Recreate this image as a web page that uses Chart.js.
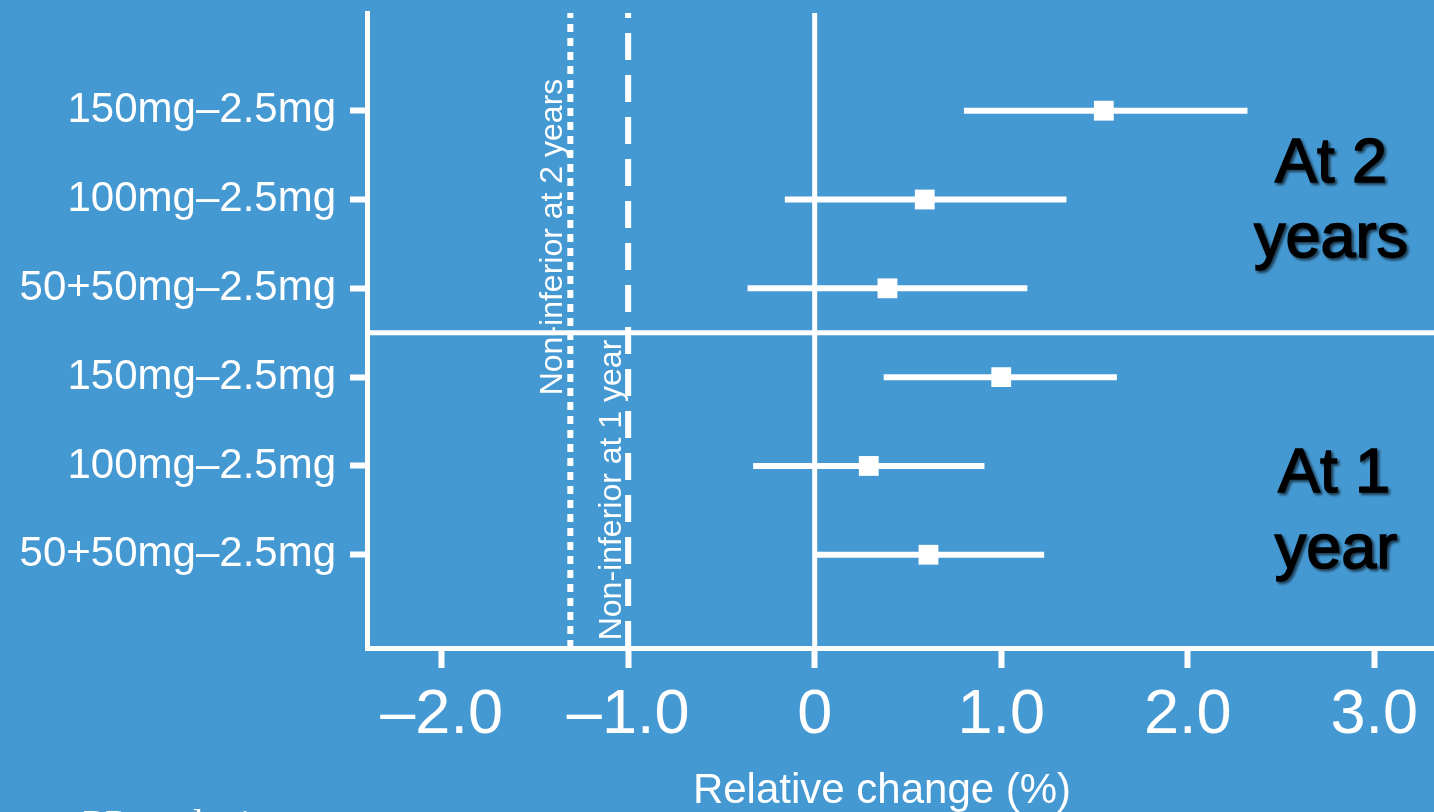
<!DOCTYPE html>
<html lang="en">
<head>
  <meta charset="UTF-8">
  <title>Non-inferiority forest plot</title>
  <script src="https://cdn.jsdelivr.net/npm/chart.js"></script>
  <style>
    html, body {
      margin: 0;
      padding: 0;
      background: #4599d3;
      overflow: hidden;
    }
    #chart {
      display: block;
      background: #4599d3;
    }
  </style>
</head>
<body>
<canvas id="chart" width="1434" height="812"></canvas>

<script>
// rows from top to bottom: 2-year comparisons then 1-year comparisons
const rowLabels = ['150mg–2.5mg', '100mg–2.5mg', '50+50mg–2.5mg', '150mg–2.5mg', '100mg–2.5mg', '50+50mg–2.5mg'];
const rowPos = [6, 5, 4, 3, 2, 1];
const estimate = [1.55, 0.59, 0.39, 1.0, 0.29, 0.61];
const ciLow = [0.80, -0.16, -0.36, 0.37, -0.33, 0.0];
const ciHigh = [2.32, 1.35, 1.14, 1.62, 0.91, 1.23];

const xTicks = [-2, -1, 0, 1, 2, 3];
const margin2y = -1.31;   // dotted line
const margin1y = -1.0;    // dashed line
const groupSplit = 3.5;

const xMin = -2.4, xMax = 3.32;
const yMin = -0.05, yMax = 7.1;

const WHITE = '#ffffff';
const FONT = '"Liberation Sans", Arial, Helvetica, sans-serif';

function fmtTick(v) {
  if (v === 0) return '0';
  if (v < 0) return '–' + Math.abs(v).toFixed(1);
  return v.toFixed(1);
}

function vline(x, dash, width) {
  return {
    data: [{ x: x, y: yMin }, { x: x, y: yMax }],
    showLine: true,
    borderColor: WHITE,
    borderWidth: width,
    borderDash: dash,
    pointRadius: 0
  };
}

// drop the extra room chart.js keeps for overhanging tick labels
function noPad(scale) {
  scale.paddingTop = 0;
  scale.paddingBottom = 0;
  scale.paddingLeft = 0;
  scale.paddingRight = 0;
}

const datasets = [];

// reference lines
datasets.push(vline(0, [], 5));
datasets.push(vline(margin2y, [8, 6], 6));
datasets.push(vline(margin1y, [27, 15], 6));
datasets.push({
  data: [{ x: xMin, y: groupSplit }, { x: xMax, y: groupSplit }],
  showLine: true,
  borderColor: WHITE,
  borderWidth: 5,
  pointRadius: 0
});

// confidence intervals
rowPos.forEach((y, i) => {
  datasets.push({
    data: [{ x: ciLow[i], y: y }, { x: ciHigh[i], y: y }],
    showLine: true,
    borderColor: WHITE,
    borderWidth: 6,
    pointRadius: 0
  });
});

// point estimates
datasets.push({
  data: rowPos.map((y, i) => ({ x: estimate[i], y: y })),
  pointStyle: 'rect',
  pointRadius: 14,
  backgroundColor: WHITE,
  borderColor: WHITE,
  borderWidth: 0
});

// free text on the plot
const textPlugin = {
  id: 'plotText',
  afterDraw(chart) {
    const ctx = chart.ctx;
    const xs = chart.scales.x;

    ctx.save();
    ctx.fillStyle = WHITE;
    ctx.font = '32px ' + FONT;
    ctx.textAlign = 'center';
    ctx.textBaseline = 'alphabetic';

    ctx.save();
    ctx.translate(xs.getPixelForValue(margin2y) - 8, 237);
    ctx.rotate(-Math.PI / 2);
    ctx.fillText('Non-inferior at 2 years', 0, 0);
    ctx.restore();

    ctx.save();
    ctx.translate(xs.getPixelForValue(margin1y) - 7, 490);
    ctx.rotate(-Math.PI / 2);
    ctx.fillText('Non-inferior at 1 year', 0, 0);
    ctx.restore();

    // axis title
    ctx.font = '42px ' + FONT;
    ctx.fillText('Relative change (%)', 882, 803);

    // footnote, mostly below the visible area
    ctx.textAlign = 'left';
    ctx.textBaseline = 'top';
    ctx.font = '40px "Liberation Serif", "Times New Roman", serif';
    ctx.fillText('PP analysis', 83, 806);

    // group labels
    ctx.fillStyle = '#000000';
    ctx.strokeStyle = '#000000';
    ctx.lineWidth = 1.5;
    ctx.shadowColor = 'rgba(0,0,0,0.6)';
    ctx.shadowOffsetX = 2;
    ctx.shadowOffsetY = 2;
    ctx.shadowBlur = 3;
    ctx.font = '63px ' + FONT;
    ctx.textAlign = 'center';
    ctx.textBaseline = 'alphabetic';
    [['At 2', 1331, 182], ['years', 1331, 257], ['At 1', 1334, 492], ['year', 1336, 568]].forEach(t => {
      ctx.fillText(t[0], t[1], t[2]);
      ctx.strokeText(t[0], t[1], t[2]);
    });
    ctx.restore();
  }
};

new Chart(document.getElementById('chart'), {
  type: 'scatter',
  data: { datasets },
  options: {
    responsive: false,
    animation: false,
    events: [],
    layout: { autoPadding: false, padding: { top: 13, left: 0, right: 0, bottom: 0 } },
    plugins: {
      legend: { display: false },
      tooltip: { enabled: false }
    },
    scales: {
      x: {
        type: 'linear',
        min: xMin,
        max: xMax,
        afterBuildTicks: (scale) => { scale.ticks = xTicks.map(v => ({ value: v })); },
        afterFit: (scale) => { scale.height = 164; noPad(scale); },
        ticks: {
          color: WHITE,
          font: { family: FONT, size: 63 },
          padding: 10,
          autoSkip: false,
          maxRotation: 0,
          callback: (v) => fmtTick(v)
        },
        grid: {
          drawOnChartArea: false,
          drawTicks: true,
          tickLength: 20,
          tickWidth: 6,
          tickColor: WHITE
        },
        border: { display: true, color: WHITE, width: 5 }
      },
      y: {
        type: 'linear',
        min: yMin,
        max: yMax,
        afterBuildTicks: (scale) => { scale.ticks = rowPos.map(v => ({ value: v })); },
        afterFit: (scale) => { scale.width = 367; noPad(scale); },
        ticks: {
          color: WHITE,
          font: { family: FONT, size: 42 },
          padding: 14,
          autoSkip: false,
          callback: (v) => rowLabels[rowPos.indexOf(v)]
        },
        grid: {
          drawOnChartArea: false,
          drawTicks: true,
          tickLength: 17,
          tickWidth: 6,
          tickColor: WHITE
        },
        border: { display: true, color: WHITE, width: 5 }
      }
    }
  },
  plugins: [textPlugin]
});
</script>
</body>
</html>
